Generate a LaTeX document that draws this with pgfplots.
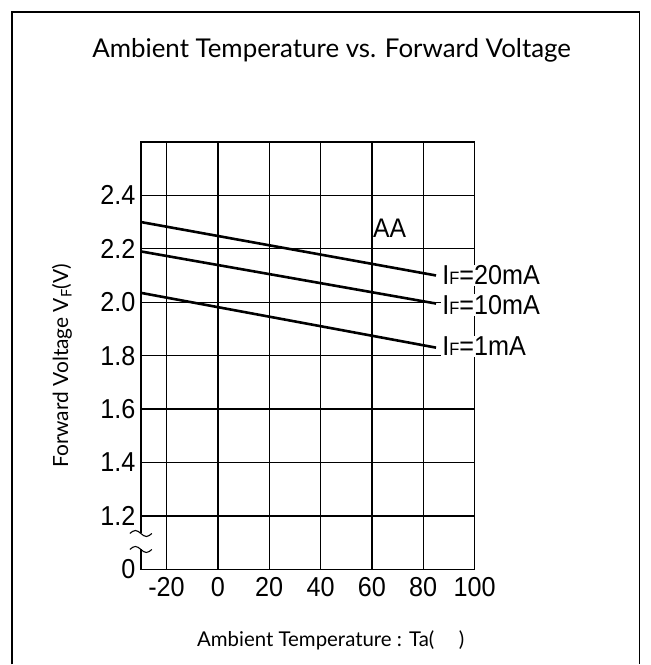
\documentclass[border=0pt]{standalone}
\usepackage{pgfplots}
\pgfplotsset{compat=1.18}
\usepackage{fontspec}
\setmainfont{Liberation Sans}
\newfontfamily\tickfont[FakeStretch=0.92]{Liberation Sans}
\newfontfamily\titlefont{Lato}

\begin{document}
\begin{tikzpicture}
% page size and outer frame (1px of the reference = 1bp)
\path (0bp,0bp) rectangle (651bp,665bp);
\draw[line width=1.3bp] (12bp,0bp) -- (12bp,653bp) -- (640bp,653bp) -- (640bp,0bp);

\begin{axis}[
    at={(141bp,95bp)}, anchor=south west,
    scale only axis,
    width=334bp, height=428bp,
    xmin=-30, xmax=100,
    ymin=1.0, ymax=2.6,
    xtick={-20,0,20,40,60,80,100},
    ytick={1.0,1.2,1.4,1.6,1.8,2.0,2.2,2.4},
    yticklabels={0,1.2,1.4,1.6,1.8,2.0,2.2,2.4},
    grid=major,
    grid style={black, line width=1.4bp},
    axis line style={black, line width=1.5bp},
    major tick length=0pt,
    clip mode=individual,
    tick label style={font=\tickfont\fontsize{27.5}{27.5}\selectfont},
    /pgf/number format/assume math mode=true,
    xticklabel style={yshift=-4bp},
    yticklabel style={xshift=-2bp},
]
\addplot[black, line width=2.6bp] coordinates {(-30,2.300) (85,2.100)};
\addplot[black, line width=2.6bp] coordinates {(-30,2.190) (85,1.995)};
\addplot[black, line width=2.6bp] coordinates {(-30,2.035) (85,1.830)};

\node[anchor=west, inner sep=1bp, font=\tickfont\fontsize{27}{27}\selectfont]
    at (axis cs:60,2.277) {AA};
\node[anchor=west, fill=white, inner sep=1bp, font=\tickfont\fontsize{27.5}{27.5}\selectfont]
    at (axis cs:87,2.100) {I{\fontsize{18}{18}\selectfont F}=20mA};
\node[anchor=west, fill=white, inner sep=1bp, font=\tickfont\fontsize{27.5}{27.5}\selectfont]
    at (axis cs:87,1.990) {I{\fontsize{18}{18}\selectfont F}=10mA};
\node[anchor=west, fill=white, inner sep=1bp, font=\tickfont\fontsize{27.5}{27.5}\selectfont]
    at (axis cs:87,1.835) {I{\fontsize{18}{18}\selectfont F}=1mA};
\end{axis}

% axis break marks on the y axis
\fill[white] (139bp,115bp) rectangle (143bp,131bp);
\draw[line width=1.1bp] (130bp,131bp)
    sin (135.5bp,134bp) cos (141bp,131bp) sin (146.5bp,128bp) cos (152bp,131bp);
\draw[line width=1.1bp] (130bp,115bp)
    sin (135.5bp,118bp) cos (141bp,115bp) sin (146.5bp,112bp) cos (152bp,115bp);

\node[font=\titlefont\fontsize{26}{26}\selectfont] at (332bp,615bp)
    {Ambient Temperature vs. Forward Voltage};
\node[rotate=90, font=\titlefont\fontsize{21}{21}\selectfont] at (62bp,299bp)
    {Forward Voltage V\textsubscript{F}(V)};
\node[font=\titlefont\fontsize{20.5}{20.5}\selectfont] at (331bp,24bp)
    {Ambient Temperature : Ta(\hspace{1.2em})};
\end{tikzpicture}
\end{document}
